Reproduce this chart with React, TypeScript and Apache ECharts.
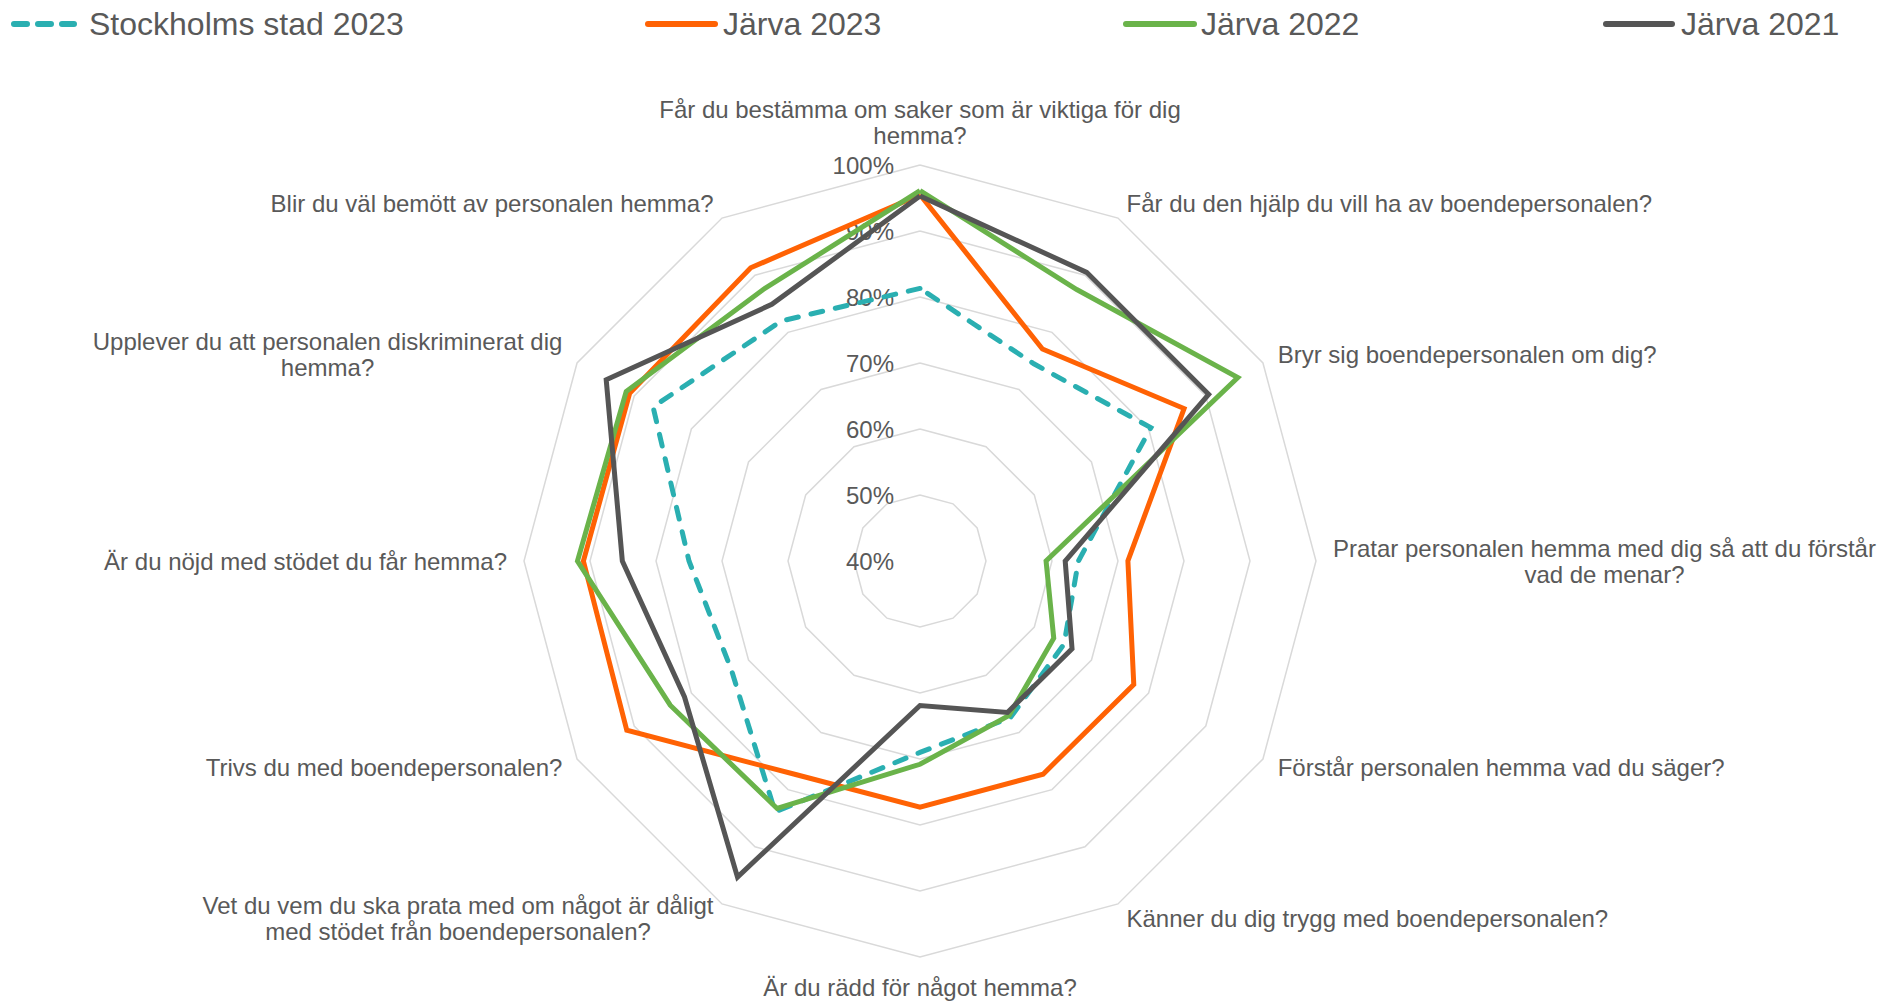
import React, { useEffect, useRef } from "react";
import * as echarts from "echarts";

const categories: string[] = [
  "Får du bestämma om saker som är viktiga för dig\nhemma?",
  "Får du den hjälp du vill ha av boendepersonalen?",
  "Bryr sig boendepersonalen om dig?",
  "Pratar personalen hemma med dig så att du förstår\nvad de menar?",
  "Förstår personalen hemma vad du säger?",
  "Känner du dig trygg med boendepersonalen?",
  "Är du rädd för något hemma?",
  "Vet du vem du ska prata med om något är dåligt\nmed stödet från boendepersonalen?",
  "Trivs du med boendepersonalen?",
  "Är du nöjd med stödet du får hemma?",
  "Upplever du att personalen diskriminerat dig\nhemma?",
  "Blir du väl bemött av personalen hemma?",
];

const seriesNames = ["Stockholms stad 2023", "Järva 2023", "Järva 2022", "Järva 2021"];

// values in %, clockwise from the top axis
const stockholm2023 = [81.3, 74.5, 80.4, 64.0, 65.2, 67.4, 69.0, 83.9, 73.0, 75.0, 86.7, 82.0];
const jarva2023 = [95.5, 77.1, 86.2, 71.5, 77.4, 77.3, 77.3, 77.4, 91.3, 91.0, 90.8, 91.3];
const jarva2022 = [96.1, 87.5, 95.6, 59.1, 63.4, 67.0, 70.8, 83.3, 83.7, 91.9, 91.4, 87.5];
const jarva2021 = [95.3, 90.5, 90.5, 62.0, 66.6, 66.5, 61.9, 95.3, 81.2, 85.1, 94.9, 84.9];

const axisMin = 40;
const axisMax = 100;
const axisSplits = 6;

const FONT = "'Liberation Sans', Arial, Helvetica, sans-serif";
const TEXT = "#595959";
const colors = ["#2AAFB1", "#FF6204", "#6AB34A", "#555555"];

// ECharts radar runs counter-clockwise; reorder to draw clockwise
const cw = <T,>(a: T[]): T[] => [a[0], ...a.slice(1).reverse()];

export default function App() {
  const ref = useRef<HTMLDivElement>(null);

  useEffect(() => {
    if (!ref.current) return;
    const chart = echarts.init(ref.current, undefined, { renderer: "svg" });

    const allSeries = [stockholm2023, jarva2023, jarva2022, jarva2021];
    const indicators = cw(categories).map((name, i) => {
      const ind: any = { name, min: axisMin, max: axisMax };
      if (i === 0) {
        ind.axisLabel = {
          show: true,
          color: TEXT,
          fontSize: 24,
          fontFamily: FONT,
          margin: 26,
          formatter: (v: number) => `${v}%`,
        };
      }
      return ind;
    });

    const legendIcon = [
      [14, 74],
      [648, 715],
      [1126, 1194],
      [1606, 1672],
    ];
    const legendTextX = [89, 723, 1201, 1681];
    const legendY = 24;

    const graphics: any[] = [];
    seriesNames.forEach((n, i) => {
      graphics.push({
        type: "line",
        shape: { x1: legendIcon[i][0], y1: legendY, x2: legendIcon[i][1], y2: legendY },
        style: {
          stroke: colors[i],
          lineWidth: 6,
          lineCap: "round",
          lineDash: i === 0 ? [13, 11] : null,
        },
      });
      graphics.push({
        type: "text",
        x: legendTextX[i],
        y: legendY,
        style: {
          text: n,
          fontSize: 32,
          fontFamily: FONT,
          fill: TEXT,
          verticalAlign: "middle",
          align: "left",
        },
      });
    });

    chart.setOption({
      animation: false,
      backgroundColor: "#ffffff",
      graphic: graphics,
      radar: {
        center: [920, 561],
        radius: 396,
        startAngle: 90,
        shape: "polygon",
        splitNumber: axisSplits,
        axisNameGap: 17,
        axisName: {
          show: true,
          color: TEXT,
          fontSize: 24,
          fontFamily: FONT,
          formatter: (name: string) =>
            name
              .split("\n")
              .map((l) => `{c|${l}}`)
              .join("\n"),
          rich: {
            c: {
              fontSize: 24,
              fontFamily: FONT,
              color: TEXT,
              align: "center",
              lineHeight: 26,
            },
          },
        },
        axisLine: { show: false },
        axisTick: { show: false },
        axisLabel: { show: false },
        splitLine: { lineStyle: { color: "#D9D9D9", width: 1.5 } },
        splitArea: { show: false },
        indicator: indicators,
      },
      series: [
        {
          type: "radar",
          symbol: "none",
          data: allSeries.map((vals, i) => ({
            name: seriesNames[i],
            value: cw(vals),
            lineStyle: {
              color: colors[i],
              width: 5,
              type: i === 0 ? [12, 13] : "solid",
              cap: i === 0 ? "round" : "butt",
              join: "miter",
            },
            itemStyle: { color: colors[i] },
          })),
        },
      ],
    });

    return () => chart.dispose();
  }, []);

  return (
    <div
      ref={ref}
      style={{ position: "fixed", left: 0, top: 0, width: 1880, height: 1002, background: "#fff" }}
    />
  );
}
